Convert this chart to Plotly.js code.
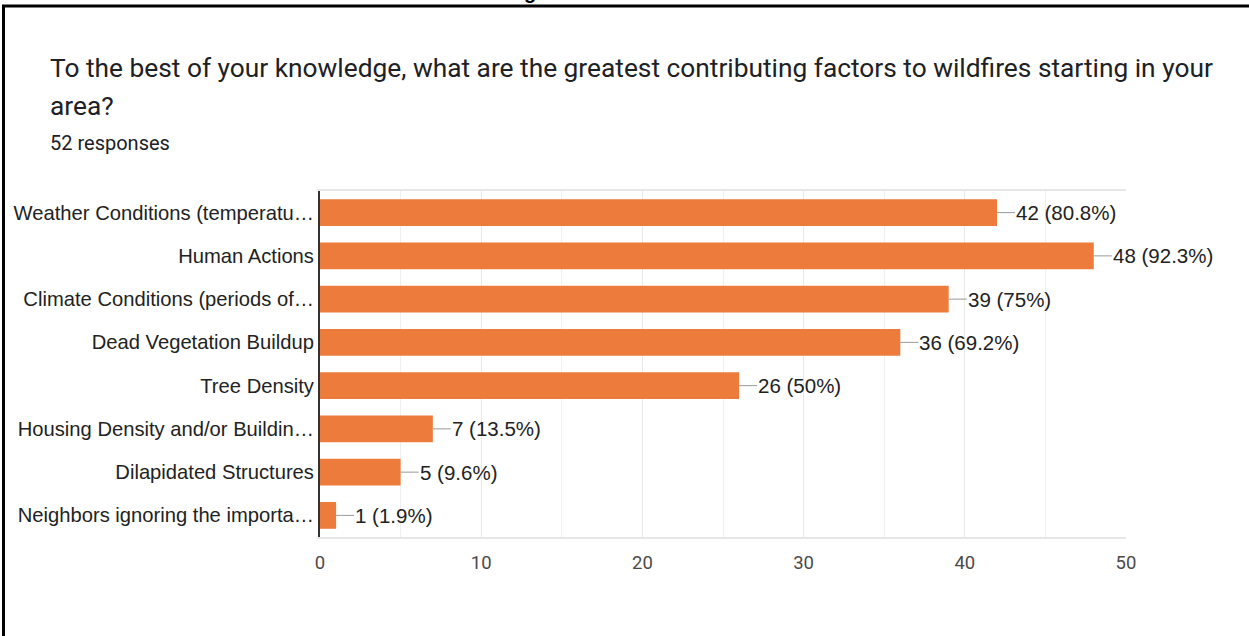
<!DOCTYPE html>
<html>
<head>
<meta charset="utf-8">
<script src="https://cdn.plot.ly/plotly-3.0.1.min.js"></script>
<style>html,body{margin:0;padding:0;background:#fff;}#chart{width:1249px;height:636px;}</style>
</head>
<body>
<div id="chart"></div>
<script>
const categories = [
  "Weather Conditions (temperatu…",
  "Human Actions",
  "Climate Conditions (periods of…",
  "Dead Vegetation Buildup",
  "Tree Density",
  "Housing Density and/or Buildin…",
  "Dilapidated Structures",
  "Neighbors ignoring the importa…"
];
const counts = [42, 48, 39, 36, 26, 7, 5, 1];
const percentLabels = ["80.8%", "92.3%", "75%", "69.2%", "50%", "13.5%", "9.6%", "1.9%"];
const xTicks = [0, 10, 20, 30, 40, 50];
const titleLine1 = "To the best of your knowledge, what are the greatest contributing factors to wildfires starting in your";
const titleLine2 = "area?";
const subtitle = "52 responses";

const L = 320, R = 1126, T = 191, B = 537, W = 1249, H = 636;
const px = x => (x - L) / (R - L);
const py = y => (B - y) / (B - T);

const trace = {
  type: 'bar',
  orientation: 'h',
  x: counts,
  y: categories,
  marker: {color: '#ed7b3b', line: {width: 0}},
  width: 0.62,
  hoverinfo: 'skip'
};

const valueAnns = counts.map((v, i) => ({
  x: v, y: categories[i], xref: 'x', yref: 'y',
  text: v + ' (' + percentLabels[i] + ')',
  showarrow: true, arrowhead: 0, arrowwidth: 1, arrowcolor: '#9a9a9a',
  ax: 18, ay: 0, xanchor: 'left', yanchor: 'middle', borderpad: 0,
  font: {family: 'Liberation Sans, Arial, sans-serif', size: 20.5, color: '#222'}
}));

const textAnns = [
  {text: titleLine1, x: px(48), y: py(68), xref: 'paper', yref: 'paper', xanchor: 'left', yanchor: 'middle', showarrow: false,
   font: {family: 'Roboto, sans-serif', size: 26.3, color: '#202124'}},
  {text: titleLine2, x: px(48), y: py(106), xref: 'paper', yref: 'paper', xanchor: 'left', yanchor: 'middle', showarrow: false,
   font: {family: 'Roboto, sans-serif', size: 26.3, color: '#202124'}},
  {text: subtitle, x: px(48), y: py(143), xref: 'paper', yref: 'paper', xanchor: 'left', yanchor: 'middle', showarrow: false,
   font: {family: 'Roboto, sans-serif', size: 20, color: '#202124'}},
  {text: '<b>g</b>', x: px(530), y: py(-8), xref: 'paper', yref: 'paper', xanchor: 'center', yanchor: 'middle', showarrow: false,
   font: {family: 'Liberation Sans, Arial, sans-serif', size: 20, color: '#000'}}
];

const layout = {
  width: W, height: H,
  margin: {l: L, r: W - R, t: T, b: H - B, pad: 0},
  paper_bgcolor: '#fff', plot_bgcolor: '#fff',
  showlegend: false,
  xaxis: {
    range: [0, 50], tickvals: xTicks, ticktext: xTicks.map(String),
    showgrid: true, gridcolor: '#e9e9e9', gridwidth: 1,
    minor: {dtick: 5, showgrid: true, gridcolor: '#f0f0f0', gridwidth: 1},
    showline: true, mirror: true, linecolor: '#e6e6e6', linewidth: 2,
    zeroline: false, ticks: '', ticklen: 0, ticklabelstandoff: 8,
    tickfont: {family: 'Roboto, sans-serif', size: 18.5, color: '#4a4a4a'},
    fixedrange: true
  },
  yaxis: {
    autorange: 'reversed', type: 'category',
    showgrid: false, zeroline: false,
    showline: true, linecolor: '#333', linewidth: 2,
    ticks: '', ticklen: 0, ticklabelstandoff: 0,
    tickfont: {family: 'Liberation Sans, Arial, sans-serif', size: 20.2, color: '#222'},
    fixedrange: true
  },
  annotations: valueAnns.concat(textAnns),
  shapes: [
    {type: 'line', xref: 'paper', yref: 'paper', x0: px(3.5), x1: px(3.5), y0: py(5), y1: py(640), line: {color: '#000', width: 3}},
    {type: 'line', xref: 'paper', yref: 'paper', x0: px(2), x1: px(1260), y0: py(6), y1: py(6), line: {color: '#000', width: 3}}
  ]
};

Plotly.newPlot('chart', [trace], layout, {displayModeBar: false, staticPlot: true});
</script>
</body>
</html>
